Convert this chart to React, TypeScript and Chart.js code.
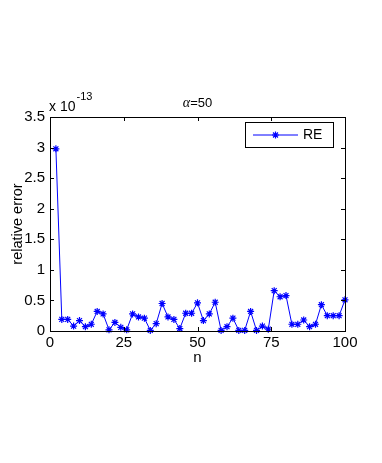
import React, { useEffect, useRef } from "react";
import { Chart, registerables } from "chart.js";

Chart.register(...registerables);

// Data (values in units of 1e-13)
const nValues = [2, 4, 6, 8, 10, 12, 14, 16, 18, 20, 22, 24, 26, 28, 30, 32, 34, 36, 38, 40, 42, 44, 46, 48, 50, 52, 54, 56, 58, 60, 62, 64, 66, 68, 70, 72, 74, 76, 78, 80, 82, 84, 86, 88, 90, 92, 94, 96, 98, 100];
const reValues = [2.98, 0.19, 0.19, 0.08, 0.17, 0.07, 0.11, 0.32, 0.28, 0.02, 0.14, 0.06, 0.02, 0.28, 0.23, 0.21, 0.01, 0.12, 0.45, 0.23, 0.19, 0.04, 0.29, 0.29, 0.46, 0.17, 0.28, 0.47, 0.01, 0.07, 0.21, 0.01, 0.01, 0.32, 0.01, 0.08, 0.03, 0.66, 0.56, 0.58, 0.11, 0.11, 0.18, 0.07, 0.11, 0.43, 0.25, 0.25, 0.25, 0.51];
const seriesLabel = "RE";
const titleSymbol = "α";
const titleRest = "=50";
const exponentBase = "x 10";
const exponentPower = "-13";
const xTitle = "n";
const yTitle = "relative error";

const BLUE = "#0000ff";
const SANS = "'Liberation Sans', Arial, Helvetica, sans-serif";

function drawStar(ctx: CanvasRenderingContext2D, x: number, y: number, r: number) {
  ctx.beginPath();
  ctx.moveTo(x - r, y); ctx.lineTo(x + r, y);
  ctx.moveTo(x, y - r); ctx.lineTo(x, y + r);
  const d = r * Math.SQRT1_2;
  ctx.moveTo(x - d, y - d); ctx.lineTo(x + d, y + d);
  ctx.moveTo(x - d, y + d); ctx.lineTo(x + d, y - d);
  ctx.stroke();
}

const framePlugin = {
  id: "matlabFrame",
  afterDraw(chart: any) {
    const ctx: CanvasRenderingContext2D = chart.ctx;
    const { left, right, top, bottom } = chart.chartArea;
    const xs = chart.scales.x;
    const ys = chart.scales.y;
    ctx.save();
    ctx.strokeStyle = "#000";
    ctx.lineWidth = 1;
    ctx.strokeRect(Math.round(left) + 0.5, Math.round(top) + 0.5, Math.round(right - left), Math.round(bottom - top));
    const tl = 4;
    ctx.beginPath();
    xs.ticks.forEach((t: any) => {
      const px = Math.round(xs.getPixelForValue(t.value)) + 0.5;
      ctx.moveTo(px, bottom); ctx.lineTo(px, bottom - tl);
      ctx.moveTo(px, top); ctx.lineTo(px, top + tl);
    });
    ys.ticks.forEach((t: any) => {
      const py = Math.round(ys.getPixelForValue(t.value)) + 0.5;
      ctx.moveTo(left, py); ctx.lineTo(left + tl, py);
      ctx.moveTo(right, py); ctx.lineTo(right - tl, py);
    });
    ctx.stroke();

    // Title
    ctx.fillStyle = "#000";
    ctx.textBaseline = "alphabetic";
    const fA = "italic 14px 'Liberation Serif', 'Times New Roman', serif";
    const fR = `13px ${SANS}`;
    ctx.font = fA;
    const wA = ctx.measureText(titleSymbol).width;
    ctx.font = fR;
    const wR = ctx.measureText(titleRest).width;
    const cx = (left + right) / 2;
    const tx = cx - (wA + wR) / 2;
    ctx.font = fA;
    ctx.textAlign = "left";
    ctx.fillText(titleSymbol, tx, 107);
    ctx.font = fR;
    ctx.fillText(titleRest, tx + wA, 107);

    // Exponent label
    ctx.font = `14px ${SANS}`;
    ctx.fillText(exponentBase, left - 1, 111);
    const wb = ctx.measureText(exponentBase).width;
    ctx.font = `11px ${SANS}`;
    ctx.fillText(exponentPower, left - 1 + wb + 1, 100);

    // Legend
    const lx = 245.5, ly = 122.5, lw = 88, lh = 25;
    ctx.fillStyle = "#fff";
    ctx.fillRect(lx, ly, lw, lh);
    ctx.strokeStyle = "#000";
    ctx.strokeRect(lx, ly, lw, lh);
    const my = ly + lh / 2;
    ctx.strokeStyle = BLUE;
    ctx.beginPath();
    ctx.moveTo(253, my); ctx.lineTo(298, my);
    ctx.stroke();
    ctx.lineWidth = 1.2;
    drawStar(ctx, 275.5, my, 3.5);
    ctx.fillStyle = "#000";
    ctx.font = `14px ${SANS}`;
    ctx.textBaseline = "middle";
    ctx.fillText(seriesLabel, 303, my + 0.5);
    ctx.restore();
  },
};

export default function App() {
  const canvasRef = useRef<HTMLCanvasElement | null>(null);
  useEffect(() => {
    if (!canvasRef.current) return;
    const chart = new Chart(canvasRef.current, {
      type: "line",
      data: {
        datasets: [
          {
            label: seriesLabel,
            data: nValues.map((n, i) => ({ x: n, y: reValues[i] })),
            borderColor: BLUE,
            backgroundColor: BLUE,
            borderWidth: 1,
            tension: 0,
            pointStyle: "star",
            pointRadius: 3.5,
            pointBorderColor: BLUE,
            pointBorderWidth: 1.2,
            clip: false as any,
          },
        ],
      },
      options: {
        responsive: false,
        animation: false,
        devicePixelRatio: 1,
        layout: { padding: { left: 0, right: 37, top: 117, bottom: 92 } },
        plugins: { legend: { display: false }, tooltip: { enabled: false }, title: { display: false } },
        scales: {
          x: {
            type: "linear",
            min: 0,
            max: 100,
            grid: { display: false, drawTicks: false },
            border: { display: false },
            ticks: { stepSize: 25, padding: 3, color: "#000", font: { family: SANS, size: 15 }, maxRotation: 0, callback: (v: any) => String(v) },
            title: { display: true, text: xTitle, color: "#000", font: { family: SANS, size: 15 }, padding: { top: 0, bottom: 4 } },
            afterFit: (s: any) => { s.height = 40; },
          },
          y: {
            type: "linear",
            min: 0,
            max: 3.5,
            grid: { display: false, drawTicks: false },
            border: { display: false },
            ticks: { stepSize: 0.5, padding: 5, color: "#000", font: { family: SANS, size: 15 }, callback: (v: any) => String(v) },
            title: { display: true, text: yTitle, color: "#000", font: { family: SANS, size: 14.5 }, padding: { top: 9, bottom: 0 } },
            afterFit: (s: any) => { s.width = 50; },
          },
        },
      },
      plugins: [framePlugin],
    });
    return () => chart.destroy();
  }, []);
  return (
    <div style={{ position: "fixed", left: 0, top: 0, width: 382, height: 463, background: "#fff" }}>
      <canvas ref={canvasRef} width={382} height={463} />
    </div>
  );
}
